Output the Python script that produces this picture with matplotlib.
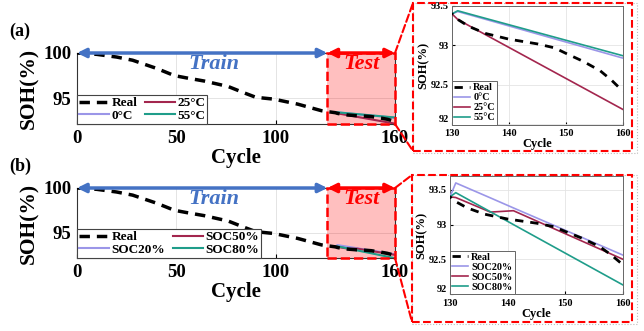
import matplotlib
matplotlib.use('Agg')
import matplotlib.pyplot as plt
from matplotlib.patches import Rectangle, ConnectionPatch

plt.rcParams['font.family'] = ['Liberation Serif', 'DejaVu Serif']
plt.rcParams['font.weight'] = 'bold'
plt.rcParams['axes.labelweight'] = 'bold'

# measured SOH of the cell (both panels share it)
real_cycle = [0, 10, 20, 28, 40, 49, 55, 64, 76, 84, 90, 99, 111, 123, 126,
              130, 131, 133, 136, 140, 145, 148, 150, 153, 156, 158, 160]
real_soh = [100.0, 99.85, 99.55, 99.2, 98.3, 97.5, 97.25, 96.9, 96.3, 95.6, 95.1,
            94.9, 94.35, 93.62, 93.52, 93.40, 93.33, 93.24, 93.15, 93.08, 93.02,
            92.97, 92.90, 92.80, 92.68, 92.56, 92.42]

# (a) predictions, temperature models
temp_cycle = [130, 131, 133, 160]
temp_labels = ['0\u00b0C', '25\u00b0C', '55\u00b0C']
soh_0c = [93.40, 93.43, 93.39, 92.84]
soh_25c = [93.40, 93.33, 93.25, 92.19]
soh_55c = [93.40, 93.44, 93.40, 92.87]

# (b) predictions, SOC models
soc_cycle = [130, 131, 137, 141, 160]
soc_labels = ['SOC20%', 'SOC50%', 'SOC80%']
soh_soc20 = [93.40, 93.60, 93.385, 93.24, 92.56]
soh_soc50 = [93.40, 93.39, 93.18, 93.20, 92.50]
soh_soc80 = [93.40, 93.46, 93.185, 93.0, 92.13]

test_start = 126
test_end = 160

colors = ['#9b96e8', '#a3264e', '#1f9d8a']
blue = '#4472c4'
red = '#ff0000'

W, H = 644, 331
fig = plt.figure(figsize=(W / 100, H / 100), dpi=100)


def px_rect(l, t, r, b):
    return [l / W, 1 - b / H, (r - l) / W, (b - t) / H]


def draw_panel(tag, tag_y, main_box, inset_box, frame_box, cyc, series, labels,
               inset_ylim):
    ax = fig.add_axes(px_rect(*main_box))
    ylo = 92.15
    ax.plot(real_cycle, real_soh, color='k', lw=2.5, dashes=(3, 2), label='Real',
            zorder=4)
    for s, lab, c in zip(series, labels, colors):
        ax.plot(cyc, s, color=c, lw=1.5, label=lab, zorder=3)
    ax.set_xlim(0, 160)
    ax.set_ylim(ylo, 100)
    ax.set_xticks([0, 50, 100, 160])
    ax.set_yticks([95, 100])
    ax.grid(True, color='#e4e4e4', lw=0.7)
    ax.set_axisbelow(True)
    ax.tick_params(labelsize=13.5, direction='in', length=3, pad=4)
    for sp in ax.spines.values():
        sp.set_color('#333333')
        sp.set_linewidth(0.8)
    ax.set_xlabel('Cycle', fontsize=15, labelpad=1)
    ax.set_ylabel('SOH(%)', fontsize=15.5, labelpad=3)

    # test region
    ax.add_patch(Rectangle((test_start, ylo), test_end - test_start, 100 - ylo,
                           facecolor=(1, 0, 0, 0.25), edgecolor='none', zorder=2))
    ax.add_patch(Rectangle((test_start, ylo), test_end - test_start, 100 - ylo,
                           facecolor='none', edgecolor=red, ls='--', lw=1.8,
                           zorder=6, clip_on=False))
    ax.annotate('', xy=(0, 100), xytext=(test_start, 100),
                arrowprops=dict(arrowstyle='<|-|>', color=blue, lw=2.5,
                                mutation_scale=13, shrinkA=0, shrinkB=0),
                annotation_clip=False, zorder=7)
    ax.annotate('', xy=(test_start, 100), xytext=(test_end, 100),
                arrowprops=dict(arrowstyle='<|-|>', color=red, lw=2.5,
                                mutation_scale=13, shrinkA=0, shrinkB=0),
                annotation_clip=False, zorder=7)
    ax.text(69, 98.8, 'Train', color=blue, fontsize=16,
            style='italic', ha='center', va='center')
    ax.text((test_start + test_end) / 2, 98.8, 'Test', color=red, fontsize=16,
            style='italic', ha='center', va='center')

    leg = ax.legend(loc='lower left', ncol=2, fontsize=9.5, borderaxespad=0,
                    handlelength=2.3, handletextpad=0.15, columnspacing=0.6,
                    labelspacing=0.05, borderpad=0.15, fancybox=False,
                    framealpha=1)
    leg.get_frame().set_edgecolor('#444444')
    leg.get_frame().set_linewidth(0.8)
    leg.set_zorder(8)

    fig.text(20 / W, 1 - tag_y / H, tag, fontsize=13, ha='center', va='center')

    # zoomed inset
    ins = fig.add_axes(px_rect(*inset_box))
    ins.plot(real_cycle, real_soh, color='k', lw=2, dashes=(3, 2.5), label='Real',
             zorder=4)
    for s, lab, c in zip(series, labels, colors):
        ins.plot(cyc, s, color=c, lw=1.2, label=lab, zorder=3)
    ins.set_xlim(130, 160)
    ins.set_ylim(*inset_ylim)
    ins.set_xticks([130, 140, 150, 160])
    ins.set_yticks([92, 92.5, 93, 93.5])
    ins.set_yticklabels(['92', '92.5', '93', '93.5'])
    ins.grid(True, color='#e4e4e4', lw=0.6)
    ins.set_axisbelow(True)
    ins.tick_params(labelsize=7.5, direction='in', length=2)
    ins.tick_params(axis='x', pad=3.5)
    ins.tick_params(axis='y', pad=2.5)
    ins.get_yticklabels()[0].set_verticalalignment('bottom')
    for sp in ins.spines.values():
        sp.set_color('#666666')
        sp.set_linewidth(0.7)
    ins.set_xlabel('Cycle', fontsize=9, labelpad=0)
    ins.set_ylabel('SOH(%)', fontsize=9, labelpad=1)
    il = ins.legend(loc='lower left', fontsize=7.3, borderaxespad=0,
                    handlelength=1.6, handletextpad=0.3, labelspacing=0.1,
                    borderpad=0.2, fancybox=False, framealpha=1)
    il.get_frame().set_edgecolor('#666666')
    il.get_frame().set_linewidth(0.7)

    # frames around the inset
    fl, ft, fr, fb = frame_box
    fig.add_artist(Rectangle((fl / W, 1 - (fb + 2) / H), (fr + 5 - fl) / W,
                             (fb + 2 - ft) / H, transform=fig.transFigure,
                             facecolor='none', edgecolor='#bbbbbb', ls=':',
                             lw=0.8))
    fig.add_artist(Rectangle((fl / W, 1 - fb / H), (fr - fl) / W, (fb - ft) / H,
                             transform=fig.transFigure, facecolor='none',
                             edgecolor=red, ls='--', lw=1.5))
    for ya, yb in [(100, ft), (ylo, fb)]:
        fig.add_artist(ConnectionPatch(xyA=(test_end, ya), coordsA=ax.transData,
                                       xyB=(fl / W, 1 - yb / H),
                                       coordsB=fig.transFigure, color=red,
                                       ls='--', lw=1.5))


draw_panel('(a)', 31, (77, 53, 395, 124), (452, 6, 623, 124.5),
           (413, 3, 632, 151), temp_cycle, [soh_0c, soh_25c, soh_55c],
           temp_labels, (92, 93.5))
draw_panel('(b)', 166, (77, 188, 395, 258), (450, 176, 623, 294),
           (412, 175, 632, 322), soc_cycle, [soh_soc20, soh_soc50, soh_soc80],
           soc_labels, (92, 93.7))

fig.savefig('out.png', dpi=100)
